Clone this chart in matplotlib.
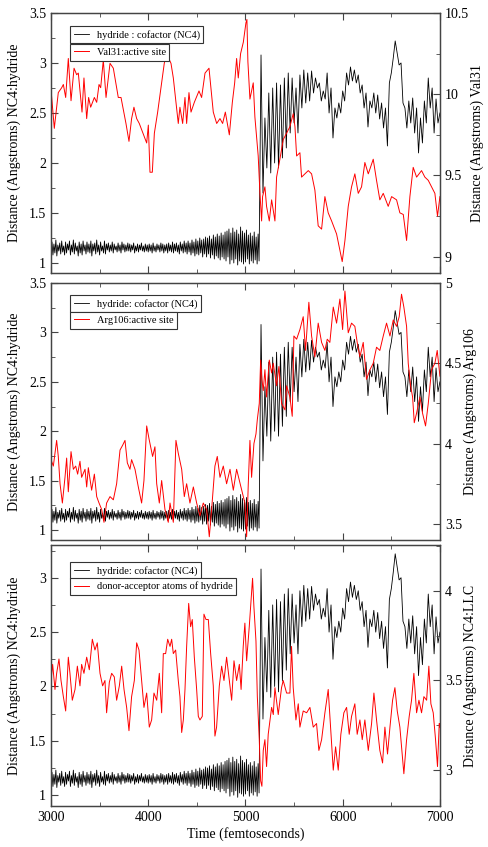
import numpy as np
import matplotlib
matplotlib.use('Agg')
from matplotlib import pyplot as plt
from matplotlib.ticker import MultipleLocator, FuncFormatter

plt.rcParams['font.family'] = ['Liberation Serif', 'DejaVu Serif']

# hydride : cofactor (NC4) distance before the transfer, every 10 fs from 3000 to 5140
hydride_pre = [
    1.13, 1.21, 1.08, 1.19, 1.10, 1.23, 1.07, 1.18, 1.12, 1.20, 1.09, 1.22, 1.11, 1.17, 1.08, 1.21, 1.10, 1.19, 1.13, 1.22,
    1.08, 1.18, 1.11, 1.23, 1.09, 1.20, 1.12, 1.17, 1.07, 1.21, 1.10, 1.19, 1.08, 1.22, 1.12, 1.18, 1.09, 1.21, 1.11, 1.19,
    1.10, 1.22, 1.07, 1.19, 1.12, 1.20, 1.09, 1.23, 1.11, 1.18, 1.08, 1.21, 1.12, 1.17, 1.10, 1.22, 1.09, 1.19, 1.13, 1.20,
    1.11, 1.18, 1.12, 1.21, 1.10, 1.19, 1.13, 1.17, 1.11, 1.20, 1.12, 1.18, 1.10, 1.21, 1.13, 1.19, 1.11, 1.18, 1.12, 1.20,
    1.12, 1.19, 1.11, 1.18, 1.13, 1.20, 1.10, 1.17, 1.12, 1.19, 1.11, 1.18, 1.13, 1.20, 1.12, 1.17, 1.11, 1.19, 1.12, 1.18,
    1.11, 1.19, 1.12, 1.18, 1.10, 1.20, 1.12, 1.17, 1.11, 1.19, 1.13, 1.18, 1.11, 1.20, 1.12, 1.19, 1.10, 1.18, 1.12, 1.19,
    1.10, 1.20, 1.12, 1.18, 1.11, 1.21, 1.10, 1.19, 1.12, 1.20, 1.11, 1.18, 1.09, 1.21, 1.12, 1.19, 1.10, 1.22, 1.11, 1.20,
    1.09, 1.22, 1.11, 1.20, 1.08, 1.23, 1.10, 1.21, 1.07, 1.24, 1.09, 1.22, 1.08, 1.25, 1.10, 1.23, 1.06, 1.24, 1.09, 1.26,
    1.06, 1.25, 1.09, 1.27, 1.05, 1.24, 1.08, 1.28, 1.04, 1.26, 1.07, 1.29, 1.05, 1.27, 1.03, 1.30, 1.06, 1.28, 1.04, 1.31,
    1.02, 1.32, 1.06, 1.34, 0.99, 1.30, 1.03, 1.35, 1.00, 1.31, 1.04, 1.33, 0.98, 1.29, 1.02, 1.36, 1.01, 1.32, 0.99, 1.30,
    1.01, 1.33, 1.04, 1.28, 0.99, 1.30, 1.02, 1.27, 1.00, 1.31, 1.03, 1.26, 0.99, 1.29, 1.02,
]
# after the transfer, every 20 fs from 5160 to 7000
hydride_post = [
    3.08, 1.70, 2.45, 1.95, 2.70, 1.90, 2.75, 2.00, 2.80, 1.95,
    2.78, 2.05, 2.85, 2.15, 2.90, 2.30, 2.85, 2.40, 2.75, 2.30,
    2.88, 2.55, 2.93, 2.60, 2.90, 2.62, 2.92, 2.70, 2.85, 2.75,
    2.80, 2.62, 2.72, 2.64, 2.90, 2.50, 2.75, 2.25, 2.55, 2.45,
    2.60, 2.50, 2.72, 2.62, 2.90, 2.78, 2.96, 2.82, 2.93, 2.80,
    2.88, 2.70, 2.78, 2.55, 2.70, 2.36, 2.62, 2.55, 2.70, 2.50,
    2.68, 2.44, 2.60, 2.35, 2.55, 2.17, 2.80, 2.90, 3.05, 3.22,
    3.10, 2.98, 3.00, 2.60, 2.55, 2.35, 2.62, 2.40, 2.65, 2.30,
    2.55, 2.10, 2.45, 2.20, 2.62, 2.40, 2.85, 2.55, 2.75, 2.30,
    2.64, 2.40, 2.50,
]
t_hydride = np.concatenate([3000 + 10 * np.arange(len(hydride_pre)),
                            5160 + 20 * np.arange(len(hydride_post))])
hydride = hydride_pre + hydride_post

# Val31 : active site
t_val31 = [
    3000, 3034, 3075, 3110, 3127, 3151, 3178, 3206, 3237, 3264,
    3281, 3319, 3339, 3367, 3387, 3408, 3446, 3470, 3494, 3511,
    3538, 3566, 3607, 3641, 3692, 3720, 3771, 3802, 3829, 3853,
    3881, 3908, 3984, 4001, 4018, 4042, 4063, 4097, 4138, 4165,
    4189, 4234, 4258, 4309, 4326, 4354, 4378, 4395, 4419, 4440,
    4474, 4522, 4549, 4584, 4625, 4669, 4704, 4738, 4765, 4793,
    4834, 4865, 4889, 4909, 4926, 4950, 4978, 5005, 5015, 5025,
    5046, 5080, 5097, 5131, 5149, 5166, 5176, 5200, 5217, 5245,
    5269, 5303, 5320, 5354, 5388, 5423, 5457, 5491, 5509, 5526,
    5560, 5577, 5611, 5646, 5680, 5714, 5748, 5783, 5817, 5851,
    5886, 5937, 5971, 5995, 6023, 6057, 6091, 6125, 6160, 6194,
    6228, 6263, 6314, 6348, 6382, 6417, 6468, 6503, 6554, 6588,
    6623, 6657, 6691, 6725, 6760, 6811, 6845, 6880, 6914, 6948,
    6975, 7000,
]
val31 = [
    10.03, 9.79, 10.01, 10.04, 10.06, 9.98, 10.22, 9.96, 10.16, 10.12,
    10.13, 9.89, 10.10, 9.85, 9.98, 9.92, 9.98, 9.95, 10.06, 10.04,
    10.21, 9.98, 10.19, 10.16, 9.98, 9.98, 9.82, 9.71, 9.85, 9.92,
    9.85, 9.82, 9.70, 9.81, 9.52, 9.52, 9.76, 9.89, 10.07, 10.19,
    10.25, 10.19, 10.10, 9.82, 9.92, 9.82, 9.98, 9.82, 10.01, 9.89,
    9.95, 10.02, 9.98, 10.13, 10.16, 9.89, 9.82, 9.85, 9.82, 9.89,
    9.75, 9.95, 10.07, 10.22, 10.10, 10.25, 10.32, 10.44, 10.46, 10.20,
    9.97, 10.07, 9.86, 9.62, 9.39, 9.22, 9.37, 9.43, 9.31, 9.22,
    9.35, 9.22, 9.49, 9.60, 9.72, 9.76, 9.80, 9.88, 9.80, 9.62,
    9.64, 9.49, 9.51, 9.53, 9.51, 9.41, 9.19, 9.17, 9.37, 9.27,
    9.22, 9.14, 9.04, 8.97, 9.10, 9.31, 9.43, 9.51, 9.39, 9.43,
    9.58, 9.51, 9.60, 9.47, 9.35, 9.39, 9.31, 9.37, 9.35, 9.27,
    9.26, 9.10, 9.37, 9.55, 9.49, 9.53, 9.49, 9.47, 9.43, 9.39,
    9.25, 9.37,
]

# Arg106 : active site
t_arg106 = [
    3000, 3024, 3058, 3075, 3093, 3117, 3144, 3161, 3178, 3206,
    3230, 3254, 3274, 3298, 3315, 3350, 3367, 3384, 3418, 3446,
    3470, 3494, 3521, 3545, 3572, 3607, 3641, 3675, 3710, 3737,
    3761, 3785, 3812, 3829, 3864, 3898, 3932, 3956, 3984, 4008,
    4025, 4045, 4069, 4087, 4114, 4138, 4172, 4206, 4224, 4258,
    4285, 4309, 4344, 4371, 4395, 4429, 4464, 4498, 4532, 4566,
    4601, 4628, 4652, 4686, 4710, 4738, 4772, 4806, 4841, 4875,
    4909, 4937, 4960, 4994, 5012, 5029, 5046, 5063, 5087, 5108,
    5122, 5142, 5156, 5169, 5183, 5200, 5217, 5245, 5269, 5286,
    5320, 5344, 5371, 5406, 5423, 5457, 5481, 5498, 5526, 5560,
    5594, 5618, 5652, 5680, 5714, 5748, 5783, 5817, 5841, 5868,
    5903, 5937, 5971, 5999, 6023, 6057, 6091, 6125, 6149, 6177,
    6211, 6245, 6280, 6314, 6348, 6382, 6417, 6451, 6486, 6520,
    6554, 6581, 6605, 6629, 6657, 6674, 6698, 6719, 6736, 6760,
    6794, 6821, 6852, 6880, 6914, 6948, 6972, 7000,
]
arg106 = [
    3.90, 3.86, 4.02, 3.92, 3.75, 3.63, 3.79, 3.91, 3.70, 3.95,
    3.84, 3.86, 3.81, 3.89, 3.79, 3.84, 3.73, 3.85, 3.71, 3.81,
    3.67, 3.63, 3.59, 3.51, 3.63, 3.67, 3.65, 3.75, 3.96, 3.99,
    4.02, 3.88, 3.84, 3.90, 3.84, 3.73, 3.63, 3.77, 4.11, 4.03,
    3.98, 3.92, 3.98, 3.75, 3.63, 3.77, 3.59, 3.51, 3.63, 3.51,
    4.02, 3.94, 3.84, 3.67, 3.75, 3.63, 3.73, 3.63, 3.55, 3.63,
    3.59, 3.42, 3.59, 3.86, 3.92, 3.79, 3.86, 3.75, 3.84, 3.71,
    3.84, 3.77, 3.71, 3.63, 3.42, 3.75, 4.02, 3.79, 4.00, 4.06,
    4.15, 4.25, 4.52, 4.40, 4.33, 4.46, 4.29, 4.52, 4.44, 4.50,
    4.36, 4.48, 4.25, 4.21, 4.36, 4.29, 4.17, 4.67, 4.65, 4.71,
    4.79, 4.58, 4.88, 4.67, 4.54, 4.75, 4.63, 4.58, 4.65, 4.63,
    4.85, 4.75, 4.90, 4.71, 4.95, 4.69, 4.75, 4.73, 4.63, 4.54,
    4.63, 4.40, 4.46, 4.50, 4.60, 4.58, 4.67, 4.75, 4.67, 4.77,
    4.73, 4.79, 4.93, 4.85, 4.73, 4.50, 4.36, 4.29, 4.13, 4.19,
    4.29, 4.19, 4.11, 4.25, 4.46, 4.50, 4.58, 4.42,
]

# donor-acceptor atoms of hydride (NC4:LLC)
t_llc = [
    3000, 3017, 3041, 3058, 3082, 3103, 3127, 3151, 3178, 3195,
    3219, 3247, 3271, 3298, 3315, 3339, 3367, 3394, 3425, 3452,
    3476, 3504, 3531, 3555, 3572, 3600, 3624, 3651, 3675, 3703,
    3727, 3751, 3778, 3802, 3829, 3857, 3881, 3905, 3932, 3956,
    3984, 4011, 4035, 4059, 4087, 4114, 4138, 4155, 4179, 4200,
    4224, 4241, 4258, 4282, 4309, 4326, 4344, 4361, 4378, 4395,
    4416, 4436, 4453, 4474, 4498, 4515, 4532, 4556, 4573, 4594,
    4618, 4642, 4669, 4686, 4703, 4731, 4755, 4779, 4806, 4834,
    4858, 4882, 4909, 4937, 4955, 4977, 4994, 5012, 5039, 5053,
    5073, 5087, 5108, 5122, 5142, 5156, 5169, 5183, 5200, 5217,
    5234, 5269, 5286, 5303, 5337, 5371, 5388, 5423, 5457, 5474,
    5491, 5519, 5543, 5560, 5594, 5629, 5663, 5697, 5731, 5755,
    5783, 5817, 5851, 5875, 5903, 5927, 5954, 5981, 6012, 6040,
    6067, 6091, 6125, 6149, 6177, 6201, 6228, 6263, 6297, 6321,
    6348, 6382, 6410, 6434, 6461, 6486, 6513, 6537, 6561, 6588,
    6612, 6629, 6657, 6684, 6708, 6732, 6760, 6784, 6811, 6835,
    6863, 6886, 6907, 6931, 6955, 6975, 6993, 7000,
]
llc = [
    3.50, 3.59, 3.45, 3.54, 3.62, 3.50, 3.41, 3.33, 3.63, 3.54,
    3.39, 3.45, 3.58, 3.47, 3.59, 3.54, 3.63, 3.56, 3.73, 3.67,
    3.71, 3.54, 3.47, 3.50, 3.32, 3.49, 3.54, 3.52, 3.39, 3.47,
    3.58, 3.45, 3.35, 3.22, 3.41, 3.50, 3.71, 3.67, 3.50, 3.35,
    3.43, 3.24, 3.28, 3.43, 3.39, 3.54, 3.32, 3.65, 3.65, 3.73,
    3.69, 3.73, 3.65, 3.67, 3.50, 3.41, 3.21, 3.28, 3.45, 3.69,
    3.93, 3.80, 3.84, 3.63, 3.45, 3.30, 3.28, 3.30, 3.87, 3.84,
    3.84, 3.65, 3.47, 3.19, 3.24, 3.47, 3.58, 3.50, 3.63, 3.50,
    3.39, 3.61, 3.50, 3.59, 3.45, 3.69, 3.82, 3.61, 3.80, 3.91,
    4.07, 3.91, 3.72, 3.41, 3.17, 2.94, 2.91, 3.11, 3.17, 3.02,
    3.20, 3.35, 3.31, 3.46, 3.31, 3.46, 3.50, 3.43, 3.43, 3.69,
    3.46, 3.28, 3.37, 3.24, 3.33, 3.32, 3.35, 3.24, 3.26, 3.11,
    3.17, 3.32, 3.45, 3.24, 3.00, 3.13, 3.00, 3.20, 3.32, 3.35,
    3.20, 3.30, 3.37, 3.20, 3.28, 3.17, 3.28, 3.11, 3.26, 3.43,
    3.28, 3.11, 3.04, 3.24, 3.09, 3.24, 3.39, 3.46, 3.33, 3.24,
    3.09, 2.98, 3.17, 3.30, 3.39, 3.54, 3.32, 3.39, 3.32, 3.41,
    3.39, 3.58, 3.37, 3.32, 3.17, 3.02, 3.26, 3.24,
]

black_labels = ['hydride : cofactor (NC4)', 'hydride: cofactor (NC4)', 'hydride: cofactor (NC4)']
red_labels = ['Val31:active site', 'Arg106:active site', 'donor-acceptor atoms of hydride']
right_labels = ['Distance (Angstroms) Val31', 'Distance (Angstroms) Arg106',
                'Distance (Angstroms) NC4:LLC']
red_t = [t_val31, t_arg106, t_llc]
red_y = [val31, arg106, llc]

# layout (figure fractions) and axis ranges per panel
boxes = [(0.1045, 0.6777, 0.797, 0.307),
         (0.1045, 0.3625, 0.797, 0.3034),
         (0.1045, 0.0484, 0.797, 0.308)]
left_lims = [(0.9, 3.5), (0.9, 3.5), (0.9, 3.3)]
right_lims = [(8.9, 10.5), (3.4, 5.0), (2.8, 4.255)]
leg_y = [(0.95, 0.88), (0.953, 0.887), (0.935, 0.874)]

fmt = FuncFormatter(lambda v, p: '%g' % v)
spine_col = '#444444'

fig = plt.figure(figsize=(4.88, 8.47), dpi=100)

for i in range(3):
    ax = fig.add_axes(boxes[i])
    ax2 = ax.twinx()
    lb, = ax.plot(t_hydride, hydride, color='black', lw=0.6)
    lr, = ax2.plot(red_t[i], red_y[i], color='#ff0000', lw=0.7)

    ax.set_xlim(3000, 7000)
    ax.set_ylim(*left_lims[i])
    ax2.set_ylim(*right_lims[i])

    ax.xaxis.set_major_locator(MultipleLocator(1000))
    ax.xaxis.set_minor_locator(MultipleLocator(500))
    ax.yaxis.set_major_locator(MultipleLocator(0.5))
    ax.yaxis.set_minor_locator(MultipleLocator(0.25))
    ax2.yaxis.set_major_locator(MultipleLocator(0.5))
    ax2.yaxis.set_minor_locator(MultipleLocator(0.25))
    ax.yaxis.set_major_formatter(fmt)
    ax2.yaxis.set_major_formatter(fmt)

    ax.tick_params(axis='x', which='both', direction='in', top=True, colors=spine_col,
                   labelcolor='black', labelsize=10)
    ax.tick_params(axis='y', which='both', direction='in', right=False, colors=spine_col,
                   labelcolor='black', labelsize=10)
    ax2.tick_params(axis='y', which='both', direction='in', colors=spine_col,
                    labelcolor='black', labelsize=10)
    for a in (ax, ax2):
        a.tick_params(which='major', length=5)
        a.tick_params(which='minor', length=3)
        for s in a.spines.values():
            s.set_color(spine_col)
            s.set_linewidth(0.9)

    if i < 2:
        ax.tick_params(axis='x', labelbottom=False)
    else:
        ax.set_xlabel('Time (femtoseconds)', fontsize=10, labelpad=2)

    ax.set_ylabel('Distance (Angstroms) NC4:hydride', fontsize=10, labelpad=6)
    ax2.set_ylabel(right_labels[i], fontsize=10, labelpad=1)

    legkw = dict(loc='upper left', fontsize=7.5, frameon=True, fancybox=False,
                 handlelength=1.5, handletextpad=0.7, borderpad=0.35,
                 borderaxespad=0, framealpha=1, edgecolor='#333333')
    leg1 = ax2.legend(handles=[lb], labels=[black_labels[i]],
                      bbox_to_anchor=(0.049, leg_y[i][0]), **legkw)
    leg1.get_frame().set_linewidth(0.8)
    ax2.add_artist(leg1)
    leg2 = ax2.legend(handles=[lr], labels=[red_labels[i]],
                      bbox_to_anchor=(0.049, leg_y[i][1]), **legkw)
    leg2.get_frame().set_linewidth(0.8)

fig.savefig('out.png', dpi=100)
